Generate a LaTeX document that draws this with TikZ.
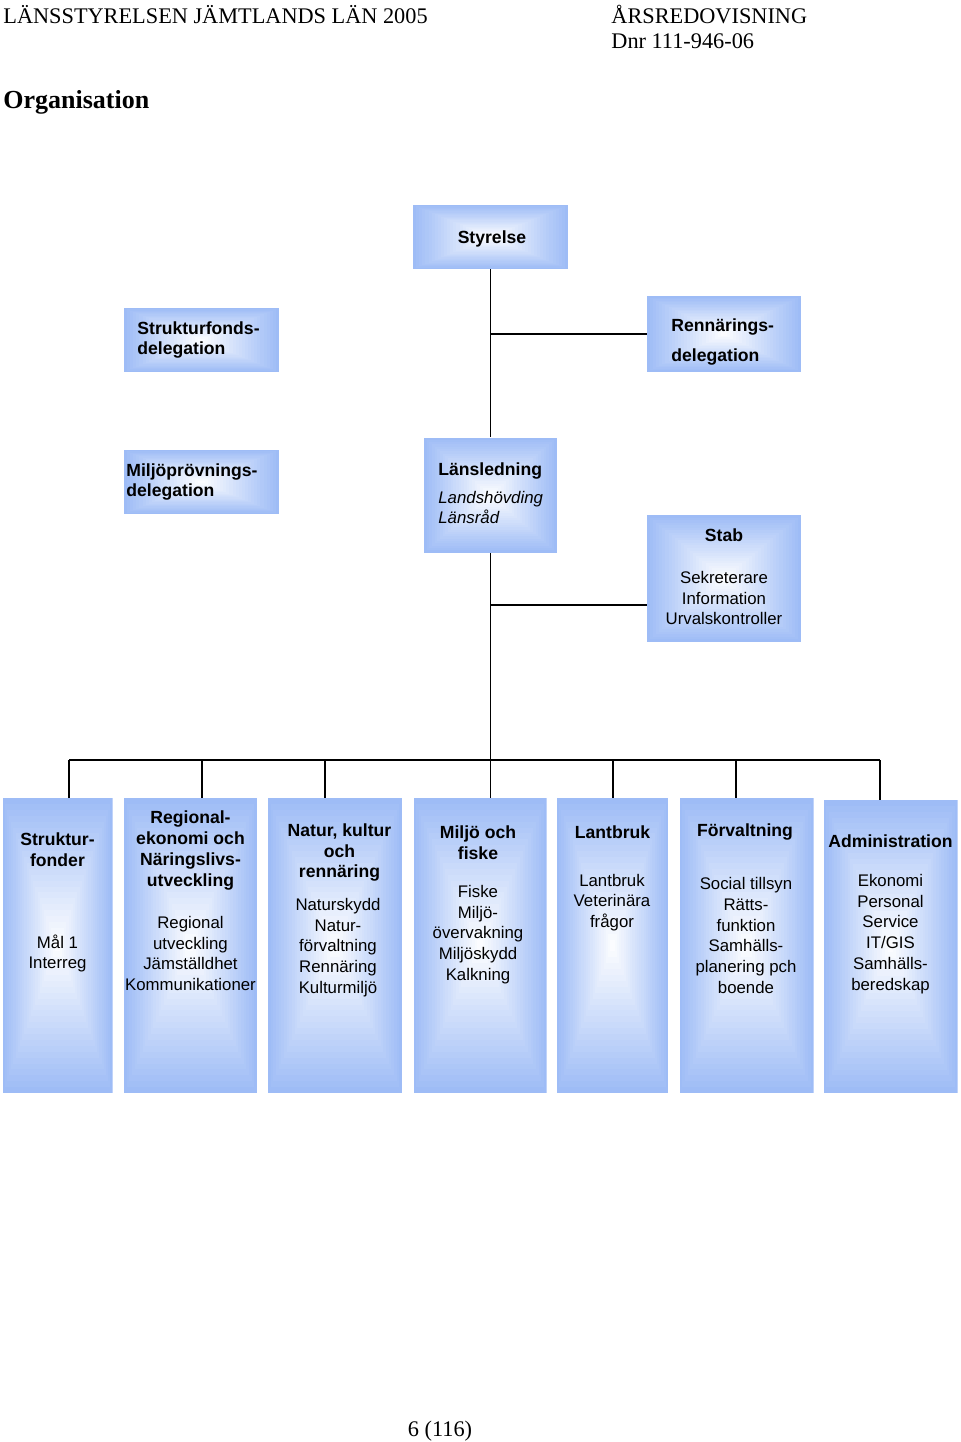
\documentclass[tikz,border=0pt]{standalone}
\usepackage{fontspec}
\setmainfont{Liberation Serif}
\setsansfont{Liberation Sans}
\usetikzlibrary{calc}
\definecolor{boxblue}{RGB}{158,188,246}

\tikzset{
  orgbox/.style={rectangle, inner sep=0pt, path picture={
    \foreach \k in {0,...,24}{
      \pgfmathtruncatemacro\pct{100-4*\k}
      \fill[boxblue!\pct!white]
        ($(path picture bounding box.south west)!\k/50!(path picture bounding box.north east)$) rectangle
        ($(path picture bounding box.north east)!\k/50!(path picture bounding box.south west)$);
    }}},
  titletxt/.style={font=\sffamily\bfseries\fontsize{8.8}{10.4}\selectfont, align=center, inner sep=0pt, yshift=-1pt},
  bodytxt/.style={font=\sffamily\fontsize{8.4}{10.4}\selectfont, align=center, inner sep=0pt, yshift=-1pt},
  pagetxt/.style={font=\fontsize{11.15}{13}\selectfont, inner sep=0pt, anchor=base west},
  link/.style={line width=0.8pt}
}

\begin{document}
\begin{tikzpicture}[x=0.5pt, y=-0.5pt]
\useasboundingbox (0,0) rectangle (960,1442);

% page head
\node[pagetxt] (head_left) at (3,23) {LÄNSSTYRELSEN JÄMTLANDS LÄN 2005};
\node[pagetxt] (head_right) at (611,23) {ÅRSREDOVISNING};
\node[pagetxt] (head_dnr) at (611,48) {Dnr 111-946-06};
\node[pagetxt, font=\bfseries\fontsize{13}{16}\selectfont] (head_title) at (3,108) {Organisation};
\node[pagetxt, anchor=base] (page_no) at (440,1436) {6 (116)};

% upper boxes
\node[orgbox, minimum width=77.5pt, minimum height=32pt] (styrelse) at (490.5,237) {};
\node[orgbox, minimum width=77.5pt, minimum height=32pt] (strukturdel) at (201.5,340) {};
\node[orgbox, minimum width=77pt, minimum height=38pt] (rennaringdel) at (724,334) {};
\node[orgbox, minimum width=77.5pt, minimum height=32pt] (miljodel) at (201.5,482) {};
\node[orgbox, minimum width=66.5pt, minimum height=57.5pt] (lansledning) at (490.5,495) {};
\node[orgbox, minimum width=77pt, minimum height=63.5pt] (stab) at (724,578.5) {};

\node[titletxt] (styrelse_txt) at (492,237) {Styrelse};
\node[titletxt, align=left, anchor=west] (strukturdel_txt) at (137,338) {Strukturfonds-\\delegation};
\node[titletxt, align=left, anchor=west, font=\sffamily\bfseries\fontsize{8.8}{15}\selectfont] (rennaringdel_txt) at (671,340) {Rennärings-\\delegation};
\node[titletxt, align=left, anchor=west] (miljodel_txt) at (126,480) {Miljöprövnings-\\delegation};
\node[titletxt, anchor=west] (lansledning_txt) at (438,469) {Länsledning};
\node[bodytxt, align=left, anchor=west, font=\sffamily\itshape\fontsize{8.4}{10.4}\selectfont] (lansledning_sub) at (438,505.5) {Landshövding\\Länsråd};
\node[titletxt] (stab_txt) at (724,533) {Stab};
\node[bodytxt] (stab_sub) at (724,596) {Sekreterare\\Information\\Urvalskontroller};

% lower boxes
\node[orgbox, minimum width=55pt, minimum height=147.5pt] (strukturfonder) at (57.5,945.5) {};
\node[orgbox, minimum width=66.5pt, minimum height=147.5pt] (regional) at (190.5,945.5) {};
\node[orgbox, minimum width=67pt, minimum height=147.5pt] (natur) at (335,945.5) {};
\node[orgbox, minimum width=66.5pt, minimum height=147.5pt] (miljo) at (480,945.5) {};
\node[orgbox, minimum width=55.5pt, minimum height=147.5pt] (lantbruk) at (612.5,945.5) {};
\node[orgbox, minimum width=67pt, minimum height=147.5pt] (forvaltning) at (746.5,945.5) {};
\node[orgbox, minimum width=67pt, minimum height=146.5pt] (admin) at (890.5,946.5) {};

\node[titletxt] (strukturfonder_txt) at (57.5,848) {Struktur-\\fonder};
\node[bodytxt] (strukturfonder_sub) at (57.5,951.5) {Mål 1\\Interreg};
\node[titletxt] (regional_txt) at (190.5,848.5) {Regional-\\ekonomi och\\Näringslivs-\\utveckling};
\node[bodytxt] (regional_sub) at (190.5,951.5) {Regional\\utveckling\\Jämställdhet\\Kommunikationer};
\node[titletxt] (natur_txt) at (339.5,850.5) {Natur, kultur\\och\\rennäring};
\node[bodytxt] (natur_sub) at (338,945.5) {Naturskydd\\Natur-\\förvaltning\\Rennäring\\Kulturmiljö};
\node[titletxt] (miljo_txt) at (478,841) {Miljö och\\fiske};
\node[bodytxt] (miljo_sub) at (478,932.5) {Fiske\\Miljö-\\övervakning\\Miljöskydd\\Kalkning};
\node[titletxt] (lantbruk_txt) at (612.5,830) {Lantbruk};
\node[bodytxt] (lantbruk_sub) at (612,900.5) {Lantbruk\\Veterinära\\frågor};
\node[titletxt] (forvaltning_txt) at (745,830) {Förvaltning};
\node[bodytxt] (forvaltning_sub) at (746,933.5) {Social tillsyn\\Rätts-\\funktion\\Samhälls-\\planering pch\\boende};
\node[titletxt] (admin_txt) at (890.5,839) {Administration};
\node[bodytxt] (admin_sub) at (890.5,932) {Ekonomi\\Personal\\Service\\IT/GIS\\Samhälls-\\beredskap};

% bus drops
\coordinate (stab_in) at (646.5,605);
\coordinate (drop1) at (69,760);
\coordinate (drop2) at (202,760);
\coordinate (drop3) at (325,760);
\coordinate (drop4) at (490.5,760);
\coordinate (drop5) at (613,760);
\coordinate (drop6) at (736,760);
\coordinate (drop7) at (880,760);

\draw[link] (styrelse) -- (lansledning);
\draw[link] (rennaringdel.west) -- (rennaringdel.west -| styrelse.south);
\draw[link] (stab_in) -- (stab_in -| lansledning.south);
\draw[link] (lansledning) -- (drop4);
\draw[link] (drop1) -- (drop7);
\draw[link] (drop1) -- (drop1 |- strukturfonder.north);
\draw[link] (drop2) -- (drop2 |- regional.north);
\draw[link] (drop3) -- (drop3 |- natur.north);
\draw[link] (drop4) -- (drop4 |- miljo.north);
\draw[link] (drop5) -- (drop5 |- lantbruk.north);
\draw[link] (drop6) -- (drop6 |- forvaltning.north);
\draw[link] (drop7) -- (drop7 |- admin.north);

\end{tikzpicture}
\end{document}
